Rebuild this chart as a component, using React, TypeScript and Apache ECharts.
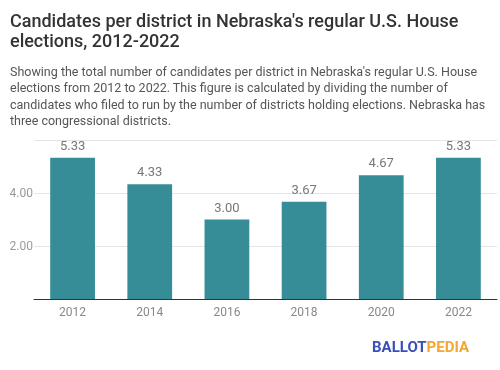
import React, { useEffect, useRef } from "react";
import * as echarts from "echarts";

const years = ["2012", "2014", "2016", "2018", "2020", "2022"];
const candidatesPerDistrict = [5.33, 4.33, 3.0, 3.67, 4.67, 5.33];
const yTicks = [2, 4];

const titleLines = [
  "Candidates per district in Nebraska's regular U.S. House",
  "elections, 2012-2022",
];
const subtitleLines = [
  "Showing the total number of candidates per district in Nebraska's regular U.S. House",
  "elections from 2012 to 2022. This figure is calculated by dividing the number of",
  "candidates who filed to run by the number of districts holding elections. Nebraska has",
  "three congressional districts.",
];

export default function App() {
  const ref = useRef<HTMLDivElement>(null);
  useEffect(() => {
    if (!ref.current) return;
    const chart = echarts.init(ref.current, null, { renderer: "svg" });
    const font = "Roboto, 'Noto Sans', sans-serif";
    chart.setOption({
      animation: false,
      grid: { left: 34, right: 3, top: 140, bottom: 71, containLabel: false },
      xAxis: {
        type: "category",
        data: years,
        axisLine: { show: true, lineStyle: { color: "#333", width: 1 } },
        axisTick: { show: false },
        axisLabel: { color: "#888", fontSize: 12, fontFamily: font, margin: 7 },
      },
      yAxis: {
        type: "value",
        min: 0,
        max: 6,
        interval: 2,
        axisLine: { show: false },
        axisTick: { show: false },
        splitLine: { show: true, lineStyle: { color: "#e5e5e5", width: 1 } },
        axisLabel: {
          color: "#999",
          fontSize: 12,
          fontFamily: font,
          margin: 1,
          formatter: (v: number) => (yTicks.includes(v) ? v.toFixed(2) : ""),
        },
      },
      series: [
        {
          type: "bar",
          data: candidatesPerDistrict,
          barWidth: "58%",
          itemStyle: { color: "#368d98" },
          label: {
            show: true,
            position: "top",
            distance: 6,
            color: "#777",
            fontSize: 13,
            fontFamily: font,
            formatter: (p: any) => Number(p.value).toFixed(2),
          },
        },
      ],
      graphic: [
        ...titleLines.map((t, i) => ({
          type: "text",
          left: 10,
          top: 11 + i * 20.5,
          style: { text: t, fill: "#333", font: `500 18px ${font}` },
        })),
        ...subtitleLines.map((t, i) => ({
          type: "text",
          left: 10,
          top: 65 + i * 16.4,
          style: { text: t, fill: "#555", font: `12.5px ${font}` },
        })),
        {
          type: "text",
          left: 372,
          top: 339,
          style: {
            text: "{a|BALLOT}{b|PEDIA}",
            rich: {
              a: { fill: "#3b4fb8", font: `bold 15px ${font}` },
              b: { fill: "#f4a630", font: `bold 15px ${font}` },
            },
          },
        },
      ],
    });
    return () => chart.dispose();
  }, []);
  return (
    <div
      ref={ref}
      style={{ position: "fixed", left: 0, top: 0, width: 500, height: 370 }}
    />
  );
}
